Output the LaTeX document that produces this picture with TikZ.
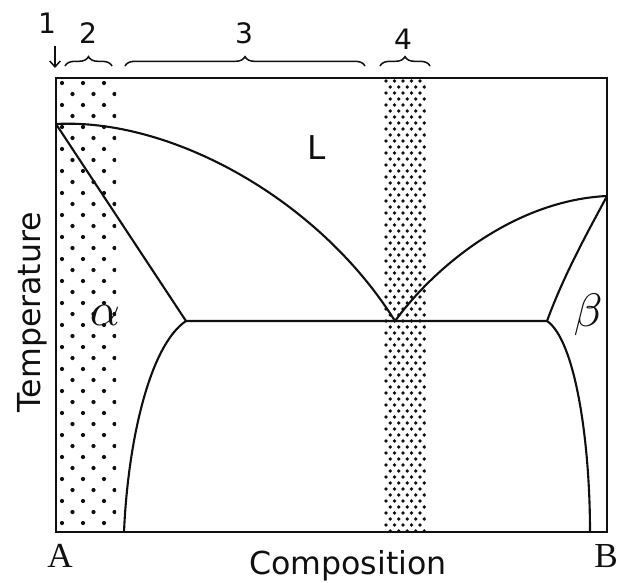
\documentclass[tikz,border=0pt]{standalone}
\usepackage{fontspec}
\setsansfont{DejaVu Sans}
\setmainfont{Liberation Serif}
\usetikzlibrary{decorations.pathreplacing,arrows.meta}
\definecolor{ink}{HTML}{101010}

\begin{document}
\begin{tikzpicture}[x=0.03cm,y=-0.03cm,
  curve/.style={ink,line width=1.8pt,line join=round},
  tag/.style={text=ink,font=\sffamily\fontsize{24}{24}\selectfont,inner sep=0pt},
  span/.style={ink,line width=1.3pt,decorate,decoration={brace,amplitude=8pt}}]
  \useasboundingbox (0,0) rectangle (619,582);
  % key points of the diagram
  \coordinate (tl) at (56,78);
  \coordinate (br) at (607,532);
  \coordinate (ma) at (56,124);
  \coordinate (mb) at (607,196);
  \coordinate (eu) at (395,321);
  \coordinate (sa) at (186,321);
  \coordinate (sb) at (547,321);
  \coordinate (ba) at (124,532);
  \coordinate (bb) at (590,532);
  % dotted bands
  \begin{scope}
    \clip (56,78) rectangle (116,532);
    \foreach \r in {0,...,42}
      \foreach \c in {0,...,3}
        \fill[ink] ({62+21*\c+10.5*mod(\r,2)},{83+11*\r}) circle (1.8pt);
  \end{scope}
  \begin{scope}
    \clip (383,78) rectangle (426,532);
    \foreach \r in {0,...,76}
      \foreach \c in {0,...,5}
        \fill[ink] ({386+8.5*\c+4.25*mod(\r,2)},{81+6*\r}) circle (1.6pt);
  \end{scope}
  \draw[ink,line width=2.2pt] (tl) rectangle (br);
  % phase boundaries
  \draw[curve] (ma) .. controls (170,118) and (318,198) .. (eu);
  \draw[curve] (ma) -- (sa) -- (sb);
  \draw[curve] (sa) .. controls (150,345) and (128,440) .. (ba);
  \draw[curve] (eu) .. controls (440,260) and (520,200) .. (mb);
  \draw[curve] (mb) .. controls (590,228) and (565,272) .. (sb);
  \draw[curve] (sb) .. controls (575,340) and (590,440) .. (bb);
  % labels
  \node[tag,font=\sffamily\fontsize{28}{28}\selectfont] (liq) at (317,148) {L};
  \node[text=ink,scale=4] (alp) at (105,315) {$\alpha$};
  \node[text=ink,scale=4] (bet) at (588,315) {$\beta$};
  \node[tag,font=\sffamily\fontsize{27}{27}\selectfont,rotate=90] (temp) at (32,312) {Temperature};
  \node[tag,font=\sffamily\fontsize{27}{27}\selectfont] (comp) at (348,566) {Composition};
  \node[text=ink,font=\fontsize{30}{30}\selectfont] (ca) at (60,556) {A};
  \node[text=ink,font=\fontsize{30}{30}\selectfont] (cb) at (606,556) {B};
  % ranges along the top
  \node[tag] (n1) at (47,23) {1};
  \node[tag] (n2) at (88,33) {2};
  \node[tag] (n3) at (244,33) {3};
  \node[tag] (n4) at (403,39) {4};
  \coordinate (a1) at (55,46);
  \coordinate (p1) at (55,68);
  \draw[ink,line width=1.3pt,-{Straight Barb[length=5pt,width=9pt]}] (a1) -- (p1);
  \draw[span] (65,66) -- (112,66);
  \draw[span] (125,66) -- (365,66);
  \draw[span] (380,66) -- (430,66);
\end{tikzpicture}
\end{document}
